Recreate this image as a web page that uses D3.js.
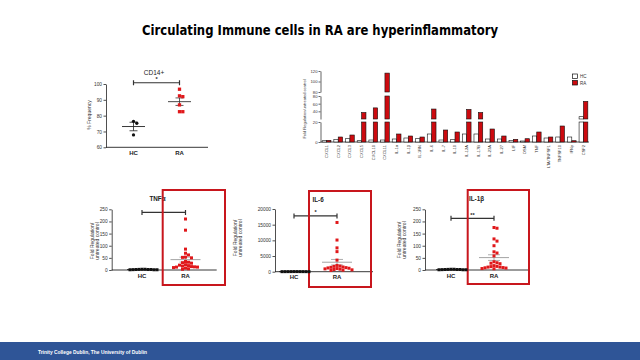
<!DOCTYPE html>
<html><head><meta charset="utf-8">
<script src="https://cdn.jsdelivr.net/npm/d3@7"></script>
<style>body{margin:0;background:#fff}svg{display:block}</style>
</head><body>
<svg id="c" width="640" height="360"></svg>
<script>
// ---------------- DATA ----------------
const titleText = "Circulating Immune cells in RA are hyperinflammatory";
const footerText = "Trinity College Dublin, The University of Dublin";
const groupNames = ["HC", "RA"];

// CD14+ % frequency
const cd14HC = [76.4, 75.2, 67.8];
const cd14RA = [96.7, 92.5, 92.0, 86.8, 82.5, 82.5];
const cd14Ticks = [60, 70, 80, 90, 100];

// Fold regulation bar chart (broken axis)
const genes = ["CXCL1","CXCL2","CXCL3","CXCL5","CXCL10","CXCL11","IL-1α","IL-1β","IL-1RN","IL-6","IL-7","IL-10","IL-12A","IL-17B","IL-23A","IL-27","LIF","OSM","TNF","LTA/TNFSF1","TNFSF10","IFNγ","CSF2"];
const hcFold = [1.3, 2.7, 3.3, 1.3, 2, 2, 3, 4, 3.3, 8, 2, 2.3, 8, 8, 3, 3, 1.5, 1, 6, 4, 5, 5, 26];
const raFold = [1.7, 5, 7, 37, 49, 116, 8, 6, 5, 46, 12, 10, 45, 37, 13, 6, 2.7, 3.3, 10, 5, 16, 1.3, 66];
const barBreaks = [0, 20, 80, 120];
const barTicks = [[0, 20], [40, 60, 80], [80, 100, 120]];

// TNFα
const tnfHC = [1, 2, 1.5, 3, 2, 1, 2.5, 3, 1, 2];
const tnfRA = [210, 164, 86, 69, 62, 53, 52, 50, 35, 32, 30, 28, 22, 20, 18, 16, 14, 13, 12, 12, 10, 8, 5, 3];
const tnfTicks = [0, 50, 100, 150, 200, 250];
// IL-6
const il6HC = [20, 30, 15, 25, 40, 10, 35, 20, 30, 25];
const il6RA = [15700, 10100, 7600, 6400, 3700, 2000, 1800, 1700, 1500, 1400, 1300, 1200, 1100, 1000, 900, 800, 700, 600, 500, 400];
const il6Ticks = [0, 5000, 10000, 15000, 20000];
// IL-1β
const il1bHC = [1, 2, 1.5, 3, 2, 1, 2.5, 3, 1, 2];
const il1bRA = [175, 172, 128, 119, 100, 75, 70, 58, 34, 30, 28, 26, 18, 15, 14, 12, 12, 10, 9, 8, 6, 5];
const il1bTicks = [0, 50, 100, 150, 200, 250];

// significance brackets [level, label]
const sigCD14 = [100.8, "*"];
const sigTNF = [237, ""];
const sigIL6 = [17800, "*"];
const sigIL1b = [213, "**"];

// ---------------- DRAWING ----------------
const svg = d3.select("#c");
const FONT = "'Liberation Sans', Arial, sans-serif";
const RED = "#e0181b";

svg.append("text").attr("x", 320).attr("y", 35).attr("text-anchor", "middle")
  .attr("font-family", "'Comic Sans MS','DejaVu Sans',sans-serif").attr("font-weight", "bold")
  .attr("font-size", 13.5).attr("textLength", 356).attr("lengthAdjust", "spacingAndGlyphs")
  .text(titleText);

svg.append("rect").attr("x", 0).attr("y", 342).attr("width", 640).attr("height", 18).attr("fill", "#2f5597");
svg.append("text").attr("x", 38).attr("y", 353.5).attr("fill", "#fff").attr("font-family", FONT)
  .attr("font-weight", "bold").attr("font-size", 4.8).attr("textLength", 109).attr("lengthAdjust", "spacingAndGlyphs")
  .text(footerText);

function mean(a) { return d3.mean(a); }
function sem(a) { return d3.deviation(a) / Math.sqrt(a.length); }

function swarm(vals, y, cx, size) {
  const pts = vals.map(v => ({ v, py: y(v) })).sort((a, b) => a.py - b.py);
  const placed = [];
  pts.forEach(p => {
    for (let k = 0; k < 80; k++) {
      const off = (k === 0 ? 0 : (k % 2 ? 1 : -1) * Math.ceil(k / 2)) * size;
      const px = cx + off;
      if (!placed.some(q => Math.abs(q.px - px) < size * 0.98 && Math.abs(q.py - p.py) < size * 0.98)) {
        p.px = px; placed.push(p); break;
      }
    }
  });
  return placed;
}

function panel(cfg) {
  const g = svg.append("g");
  const y = d3.scaleLinear().domain(cfg.domain).range([cfg.yBase, cfg.yTop]);
  const x = d3.scalePoint().domain(groupNames).range(cfg.xr);
  const ax = g.append("g").attr("transform", `translate(${cfg.axX},0)`)
    .call(d3.axisLeft(y).tickValues(cfg.ticks).tickSize(2.5).tickSizeOuter(0).tickPadding(1.5).tickFormat(d3.format("d")));
  ax.selectAll("path,line").attr("stroke", "#222").attr("stroke-width", 0.8);
  ax.selectAll("text").attr("font-family", FONT).attr("font-size", cfg.tickFs).attr("fill", "#333");
  g.append("line").attr("x1", cfg.axX).attr("x2", cfg.axEnd).attr("y1", cfg.yBase).attr("y2", cfg.yBase)
    .attr("stroke", "#222").attr("stroke-width", 0.9);
  g.selectAll(".xl").data(groupNames).enter().append("text")
    .attr("x", d => x(d)).attr("y", cfg.yBase + 7.5).attr("text-anchor", "middle")
    .attr("font-family", FONT).attr("font-weight", "bold").attr("font-size", 6).attr("fill", "#222").text(d => d);
  // y label
  const yl = g.append("text").attr("transform", `translate(${cfg.ylX},${cfg.ylY}) rotate(-90)`)
    .attr("text-anchor", "middle").attr("font-family", FONT).attr("font-size", cfg.ylFs).attr("fill", "#333");
  cfg.ylabel.forEach((t, i) => yl.append("tspan").attr("x", 0).attr("dy", i === 0 ? 0 : cfg.ylFs * 1.15).text(t));
  // title
  g.append("text").attr("x", cfg.titleX).attr("y", cfg.titleY).attr("text-anchor", cfg.titleAnchor)
    .attr("font-family", FONT).attr("font-weight", cfg.titleW).attr("font-size", cfg.titleFs).attr("fill", "#222").text(cfg.title);
  // bracket
  const by = y(cfg.sig[0]);
  g.append("path").attr("d", `M${x("HC")},${by - 2.5}V${by + 2.5}M${x("HC")},${by}H${x("RA")}M${x("RA")},${by - 2.5}V${by + 2.5}`)
    .attr("stroke", "#333").attr("stroke-width", 1.2).attr("fill", "none");
  if (cfg.sig[1]) g.append("text").attr("x", (x("HC") + x("RA")) / 2).attr("y", by - 1.5).attr("text-anchor", "middle")
    .attr("font-family", FONT).attr("font-weight", "bold").attr("font-size", 5.5).attr("fill", "#222").text(cfg.sig[1]);
  // red box
  if (cfg.box) g.append("rect").attr("x", cfg.box[0]).attr("y", cfg.box[1]).attr("width", cfg.box[2]).attr("height", cfg.box[3])
    .attr("fill", "none").attr("stroke", "#c8161d").attr("stroke-width", 2);
  // series
  [[cfg.hc, "HC"], [cfg.ra, "RA"]].forEach(([vals, name]) => {
    const col = name === "HC" ? "#111" : RED;
    const s = cfg.ptSize;
    const pts = swarm(vals, y, x(name), s);
    const ecol = name === "HC" ? "#222" : cfg.raErr;
    const m = mean(vals), e = sem(vals);
    g.append("line").attr("x1", x(name) - cfg.meanW).attr("x2", x(name) + cfg.meanW).attr("y1", y(m)).attr("y2", y(m))
      .attr("stroke", ecol).attr("stroke-width", 0.9);
    g.append("path").attr("d", `M${x(name)},${y(m - e)}V${y(m + e)}M${x(name) - cfg.capW},${y(m + e)}H${x(name) + cfg.capW}M${x(name) - cfg.capW},${y(m - e)}H${x(name) + cfg.capW}`)
      .attr("stroke", ecol).attr("stroke-width", 0.8).attr("fill", "none");
    if (cfg.circleHC && name === "HC") {
      g.selectAll(null).data(pts).enter().append("circle").attr("cx", d => d.px).attr("cy", d => d.py).attr("r", s / 2).attr("fill", col);
    } else {
      g.selectAll(null).data(pts).enter().append("rect").attr("x", d => d.px - s / 2).attr("y", d => d.py - s / 2)
        .attr("width", s).attr("height", s).attr("fill", col);
    }
  });
}

// CD14+
panel({ domain: [60, 100], ticks: cd14Ticks, yBase: 147.3, yTop: 84, axX: 106, axEnd: 208, xr: [133.5, 179.5],
  tickFs: 4.8, ylabel: ["% Frequency"], ylX: 91, ylY: 115, ylFs: 5,
  title: "CD14+", titleX: 154, titleY: 74.5, titleAnchor: "middle", titleW: "normal", titleFs: 6.5,
  sig: sigCD14, hc: cd14HC, ra: cd14RA, ptSize: 3.3, meanW: 11.5, capW: 4, raErr: "#333", circleHC: true });

// TNFα
panel({ domain: [0, 250], ticks: tnfTicks, yBase: 270, yTop: 209.3, axX: 111.7, axEnd: 216.7, xr: [142, 185.5],
  tickFs: 4.8, ylabel: ["Fold Regulation/", "untreated control"], ylX: 93.5, ylY: 241, ylFs: 5,
  title: "TNFα", titleX: 157.5, titleY: 201, titleAnchor: "middle", titleW: "bold", titleFs: 6.3,
  sig: sigTNF, hc: tnfHC, ra: tnfRA, ptSize: 3, meanW: 15, capW: 6, raErr: "#999", box: [162.7, 190, 62.3, 95] });

// IL-6
panel({ domain: [0, 20000], ticks: il6Ticks, yBase: 271.7, yTop: 209, axX: 275, axEnd: 373, xr: [294, 337],
  tickFs: 4.8, ylabel: ["Fold Regulation/", "untreated control"], ylX: 236.5, ylY: 238, ylFs: 5,
  title: "IL-6", titleX: 312.5, titleY: 201.5, titleAnchor: "start", titleW: "bold", titleFs: 6.3,
  sig: sigIL6, hc: il6HC, ra: il6RA, ptSize: 3, meanW: 15, capW: 6, raErr: "#999", box: [309, 191, 62, 96] });

// IL-1β
panel({ domain: [0, 250], ticks: il1bTicks, yBase: 270, yTop: 209.3, axX: 425, axEnd: 528, xr: [451, 494],
  tickFs: 4.8, ylabel: ["Fold Regulation/", "untreated control"], ylX: 400.5, ylY: 240, ylFs: 5,
  title: "IL-1β", titleX: 469, titleY: 201, titleAnchor: "start", titleW: "bold", titleFs: 6.3,
  sig: sigIL1b, hc: il1bHC, ra: il1bRA, ptSize: 3, meanW: 15, capW: 6, raErr: "#999", box: [467.7, 190, 61.3, 94] });

// -------- Bar chart with broken axis --------
(function () {
  const g = svg.append("g");
  const base = 142;
  const segRanges = [[142, 122], [119, 96], [92, 71]];
  const segs = segRanges.map((r, i) => ({
    lo: barBreaks[i], hi: barBreaks[i + 1],
    s: d3.scaleLinear().domain([barBreaks[i], barBreaks[i + 1]]).range(r),
    ticks: barTicks[i]
  }));
  const x = d3.scaleBand().domain(genes).range([321, 589]).paddingInner(0.25).paddingOuter(0.1);
  const xs = d3.scaleBand().domain(groupNames).range([0, x.bandwidth()]);
  const axX = 320.5;
  segs.forEach((sg, i) => {
    const a = g.append("g").attr("transform", `translate(${axX},0)`)
      .call(d3.axisLeft(sg.s).tickValues(sg.ticks.filter(t => !(i === 1 && t === 20))).tickSize(2).tickSizeOuter(0).tickPadding(1));
    a.selectAll("path,line").attr("stroke", "#222").attr("stroke-width", 0.7);
    a.selectAll("text").attr("font-family", FONT).attr("font-size", 4.2).attr("fill", "#333");
  });
  g.append("line").attr("x1", axX).attr("x2", 589).attr("y1", base).attr("y2", base).attr("stroke", "#222").attr("stroke-width", 0.8);
  const series = [["HC", hcFold, "#fff"], ["RA", raFold, "#cc0a0f"]];
  series.forEach(([name, vals, fill]) => {
    vals.forEach((v, i) => {
      segs.forEach(sg => {
        if (v <= sg.lo) return;
        const top = sg.s(Math.min(v, sg.hi)), bot = sg.s(sg.lo);
        g.append("rect").attr("x", x(genes[i]) + xs(name)).attr("y", top).attr("width", xs.bandwidth())
          .attr("height", bot - top).attr("fill", fill).attr("stroke", "#111").attr("stroke-width", 0.6);
      });
    });
  });
  g.selectAll(".gl").data(genes).enter().append("text")
    .attr("transform", d => `translate(${x(d) + x.bandwidth() / 2 + 1.3},${base + 3}) rotate(-90)`)
    .attr("text-anchor", "end").attr("font-family", FONT).attr("font-size", 4).attr("fill", "#333").text(d => d);
  g.append("text").attr("transform", `translate(306,109) rotate(-90)`).attr("text-anchor", "middle")
    .attr("font-family", FONT).attr("font-size", 4).attr("fill", "#333").text("Fold Regulation/untreated control");
  // legend
  series.forEach(([name, , fill], i) => {
    g.append("rect").attr("x", 572.5).attr("y", 74 + i * 6.5).attr("width", 5).attr("height", 4.5)
      .attr("fill", fill).attr("stroke", "#111").attr("stroke-width", 0.7);
    g.append("text").attr("x", 580).attr("y", 78 + i * 6.5).attr("font-family", FONT).attr("font-size", 4.5)
      .attr("fill", "#333").text(name);
  });
})();
</script></body></html>
